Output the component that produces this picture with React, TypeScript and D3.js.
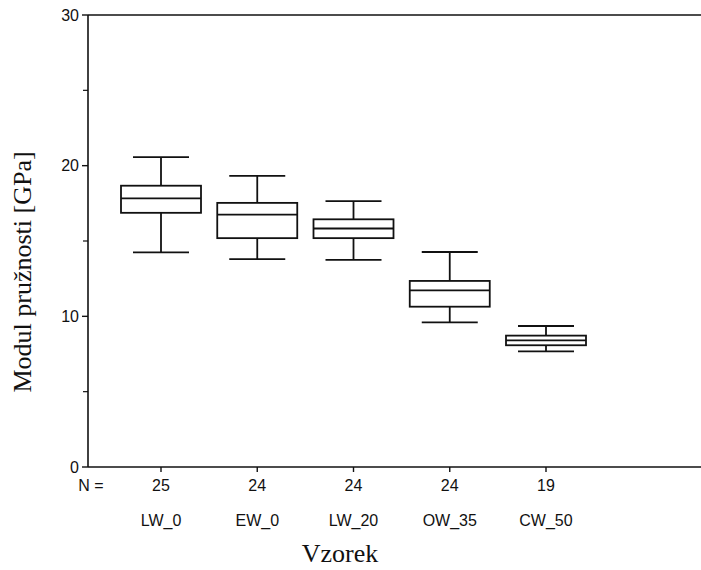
import React from 'react'
import * as d3 from 'd3'

const categories = ['LW_0', 'EW_0', 'LW_20', 'OW_35', 'CW_50']
const counts = [25, 24, 24, 24, 19]
const whiskerLow = [14.25, 13.8, 13.75, 9.6, 7.68]
const q1 = [16.87, 15.19, 15.19, 10.64, 8.08]
const median = [17.83, 16.75, 15.83, 11.72, 8.41]
const q3 = [18.67, 17.53, 16.44, 12.35, 8.72]
const whiskerHigh = [20.57, 19.32, 17.64, 14.27, 9.36]
const majorTicks = [0, 10, 20, 30]
const minorTicks = [5, 15, 25]

const W = 701
const H = 570
const left = 88
const right = 701
const top = 15
const bottom = 467

export default function App() {
	const y = d3.scaleLinear().domain([0, 30]).range([bottom, top])
	const x = d3.scalePoint<string>().domain(categories).range([161, 546])
	const boxW = 80
	const capW = 56
	const sans = '"Liberation Sans", Arial, sans-serif'
	const serif = '"Liberation Serif", "Times New Roman", serif'

	return (
		<svg width={W} height={H} style={{ position: 'absolute', left: 0, top: 0 }}>
			<rect width={W} height={H} fill='#fff' />
			{/* frame */}
			<line x1={left} x2={right} y1={top} y2={top} stroke='#111' strokeWidth={1.6} />
			<line x1={left} x2={left} y1={top} y2={bottom} stroke='#111' strokeWidth={1.6} />
			<line x1={left} x2={right} y1={bottom} y2={bottom} stroke='#111' strokeWidth={1.6} />

			{/* y ticks */}
			{majorTicks.map(t => (
				<g key={'m' + t}>
					<line x1={left - 6} x2={left} y1={y(t)} y2={y(t)} stroke='#111' strokeWidth={1.4} />
					<text x={left - 9} y={y(t)} dy='0.36em' textAnchor='end' fontFamily={sans} fontSize={16} fill='#111'>{t}</text>
				</g>
			))}
			{minorTicks.map(t => (
				<line key={'n' + t} x1={left - 5} x2={left} y1={y(t)} y2={y(t)} stroke='#111' strokeWidth={1.2} />
			))}

			{/* x ticks & labels */}
			<text x={91} y={491} textAnchor='middle' fontFamily={sans} fontSize={16} fill='#111'>N =</text>
			{categories.map((c, i) => (
				<g key={c}>
					<line x1={x(c)} x2={x(c)} y1={bottom} y2={bottom + 5} stroke='#111' strokeWidth={1.4} />
					<text x={x(c)} y={491} textAnchor='middle' fontFamily={sans} fontSize={16} fill='#111'>{counts[i]}</text>
					<text x={x(c)} y={526} textAnchor='middle' fontFamily={sans} fontSize={16} fill='#111'>{c}</text>
				</g>
			))}

			{/* boxes */}
			{categories.map((c, i) => {
				const cx = x(c) as number
				return (
					<g key={'b' + c} stroke='#111' strokeWidth={1.8} fill='none'>
						<line x1={cx} x2={cx} y1={y(whiskerHigh[i])} y2={y(q3[i])} />
						<line x1={cx} x2={cx} y1={y(q1[i])} y2={y(whiskerLow[i])} />
						<line x1={cx - capW / 2} x2={cx + capW / 2} y1={y(whiskerHigh[i])} y2={y(whiskerHigh[i])} />
						<line x1={cx - capW / 2} x2={cx + capW / 2} y1={y(whiskerLow[i])} y2={y(whiskerLow[i])} />
						<rect x={cx - boxW / 2} y={y(q3[i])} width={boxW} height={y(q1[i]) - y(q3[i])} fill='#fff' />
						<line x1={cx - boxW / 2} x2={cx + boxW / 2} y1={y(median[i])} y2={y(median[i])} />
					</g>
				)
			})}

			{/* axis titles */}
			<text transform='translate(31,272) rotate(-90)' textAnchor='middle' fontFamily={serif} fontSize={26} fill='#111'>Modul pružnosti [GPa]</text>
			<text x={340} y={562} textAnchor='middle' fontFamily={serif} fontSize={26} fill='#111'>Vzorek</text>
		</svg>
	)
}
